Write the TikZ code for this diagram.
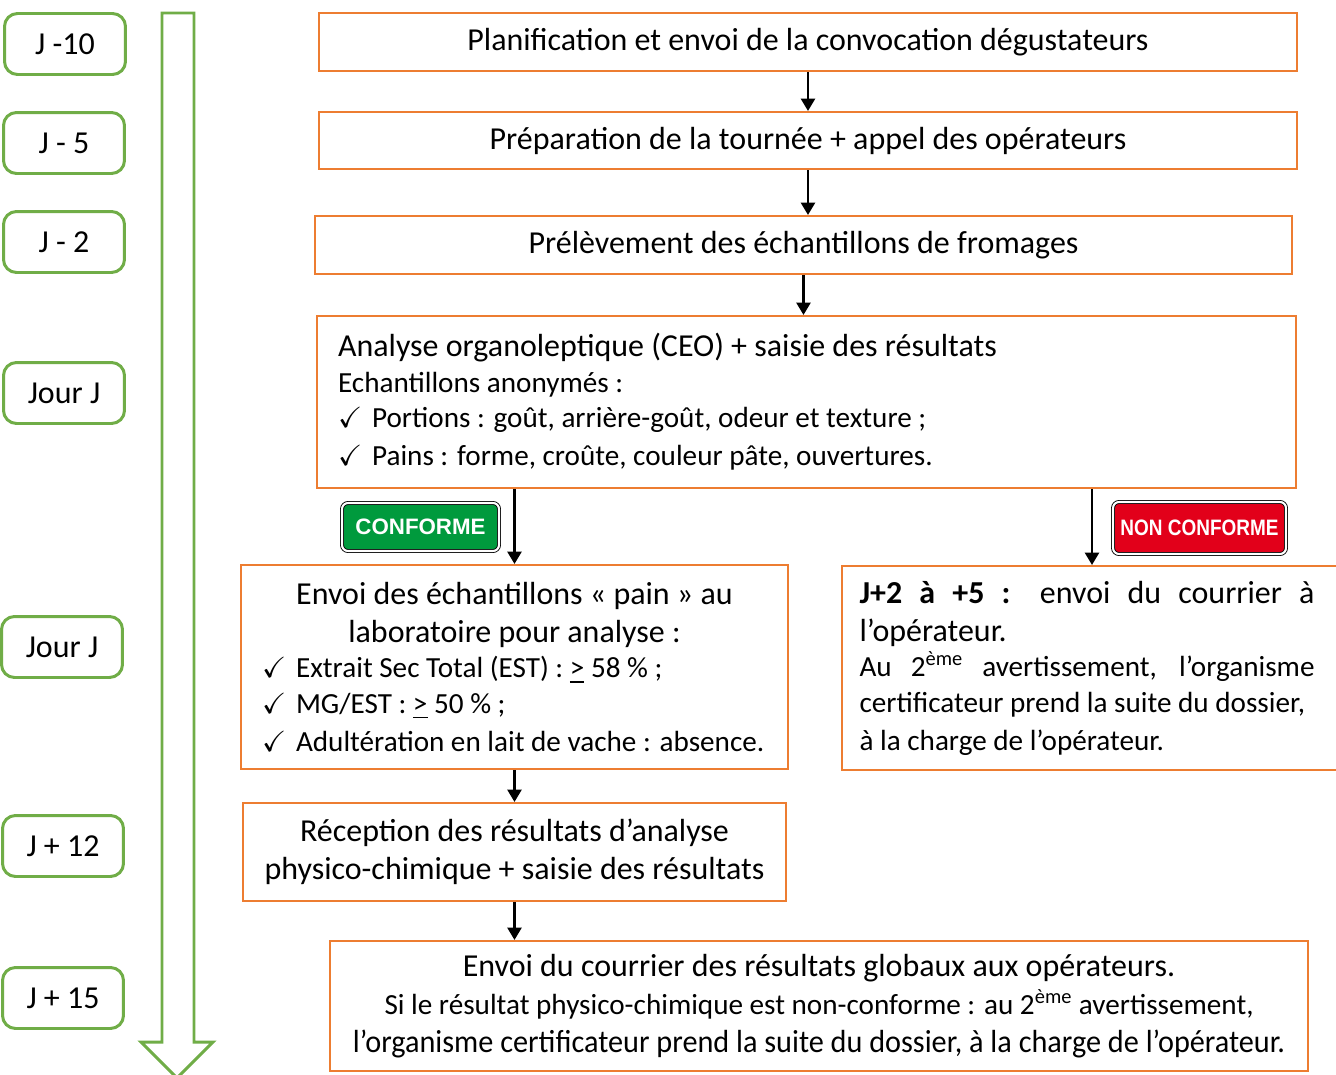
\documentclass[tikz,border=0pt]{standalone}
\usepackage{fontspec}
\setmainfont{Carlito}
\newfontfamily\signfont{Liberation Sans}
\usepackage{amssymb}
\usetikzlibrary{positioning}
\usetikzlibrary{arrows.meta}

\definecolor{boxorange}{HTML}{ED7D31}
\definecolor{daygreen}{HTML}{70AD47}
\definecolor{okgreen}{HTML}{009A3D}
\definecolor{kored}{HTML}{E2001A}

\newcommand{\bigf}{\fontsize{18.2}{21.6}\selectfont}
\newcommand{\smallf}{\fontsize{16.6}{20.2}\selectfont}
\newcommand{\ck}{\makebox[0.68cm][l]{\checkmark}}

\begin{document}
\begin{tikzpicture}[x=0.02cm,y=-0.02cm,
    stepbox/.style={draw=boxorange,line width=1.2pt,fill=white,inner sep=0pt,font=\bigf},
    daybox/.style={draw=daygreen,line width=1.7pt,rounded corners=0.26cm,fill=white,
      minimum width=2.42cm,minimum height=1.22cm,font=\bigf},
    sign/.style={draw=black,line width=0.5pt,double=white,double distance=1.2pt,
      rounded corners=0.12cm,text=white,inner sep=0pt,
      font=\signfont\bfseries\fontsize{12.7}{14}\selectfont},
    arr/.style={line width=1.2pt,-{Triangle[length=7pt,width=8pt]}}]
  \useasboundingbox (0,0) rectangle (1336,1075);

  % time line
  \draw[daygreen,line width=1.7pt,fill=white] (162,13) -- (194,13) -- (194,1042) -- (213,1042)
    -- (177,1078) -- (141,1042) -- (162,1042) -- cycle;
  \node[daybox] (T1) at (65,44)  {J -10};
  \node[daybox] (T2) at (64,143) {J - 5};
  \node[daybox] (T3) at (64,242) {J - 2};
  \node[daybox] (T4) at (64,393) {Jour J};
  \node[daybox] (T5) at (62,647) {Jour J};
  \node[daybox] (T6) at (63,846) {J + 12};
  \node[daybox] (T7) at (63,998) {J + 15};

  % steps
  \node[stepbox,minimum width=19.56cm,minimum height=1.16cm] (S1) at (808,42)
    {Planification et envoi de la convocation dégustateurs};
  \node[stepbox,minimum width=19.56cm,minimum height=1.14cm] (S2) at (808,140.5)
    {Préparation de la tournée + appel des opérateurs};
  \node[stepbox,minimum width=19.54cm,minimum height=1.16cm] (S3) at (803.5,245)
    {Prélèvement des échantillons de fromages};
  \node[stepbox,text width=18.74cm,inner xsep=0.42cm,minimum height=3.44cm,align=flush left] (S4) at (806.5,402)
    {Analyse organoleptique (CEO) + saisie des résultats\\
     \smallf Echantillons anonymés :\\
     \ck Portions : goût, arrière-goût, odeur et texture ;\\
     \ck Pains : forme, croûte, couleur pâte, ouvertures.};
  \node[stepbox,text width=10.1cm,minimum width=10.94cm,minimum height=4.08cm,align=flush center] (S5) at (514.5,667)
    {Envoi des échantillons «~pain~» au\\
     laboratoire pour analyse :\\
     \smallf\makebox[10.1cm][l]{\ck Extrait Sec Total (EST) : \underline{>}~58~\% ;}\\
     \makebox[10.1cm][l]{\ck MG/EST : \underline{>}~50~\% ;}\\
     \makebox[10.1cm][l]{\ck Adultération en lait de vache : absence.}};
  \node[stepbox,text width=9.3cm,inner xsep=0.35cm,minimum height=4.08cm,align=flush left] (S6) at (1092,668)
    {\makebox[9.1cm][s]{\textbf{J+2 à +5 :} envoi du courrier à}\\
     l’opérateur.\\
     \smallf\makebox[9.1cm][s]{Au 2\textsuperscript{ème} avertissement, l’organisme}\\
     certificateur prend la suite du dossier,\\
     à la charge de l’opérateur.};
  \node[stepbox,minimum width=10.86cm,minimum height=1.96cm,align=center] (S7) at (514.5,852)
    {Réception des résultats d’analyse\\
     physico-chimique + saisie des résultats};
  \node[stepbox,minimum width=19.56cm,minimum height=2.6cm,align=center] (S8) at (819,1006)
    {Envoi du courrier des résultats globaux aux opérateurs.\\
     \smallf Si le résultat physico-chimique est non-conforme : au 2\textsuperscript{ème} avertissement,\\
     \scalebox{0.946}[1]{l’organisme certificateur prend la suite du dossier, à la charge de l’opérateur.}};

  % signs
  \node[sign,fill=okgreen,minimum width=3.14cm,minimum height=0.96cm] (C) at (420.5,527) {CONFORME};
  \node[sign,fill=kored,minimum width=3.46cm,minimum height=1.04cm] (NC) at (1199.5,528)
    {\scalebox{0.85}[1]{NON CONFORME}};

  % arrows
  \draw[arr] (S1) -- (S1 |- S2.north);
  \draw[arr] (S2) -- (S2 |- S3.north);
  \draw[arr] (S3) -- (S3 |- S4.north);
  \draw[arr] (S4.south -| S5) -- (S5);
  \draw[arr] (S4.south -| S6) -- (S6);
  \draw[arr] (S5) -- (S7);
  \draw[arr] (S7) -- (S7 |- S8.north);
\end{tikzpicture}
\end{document}
